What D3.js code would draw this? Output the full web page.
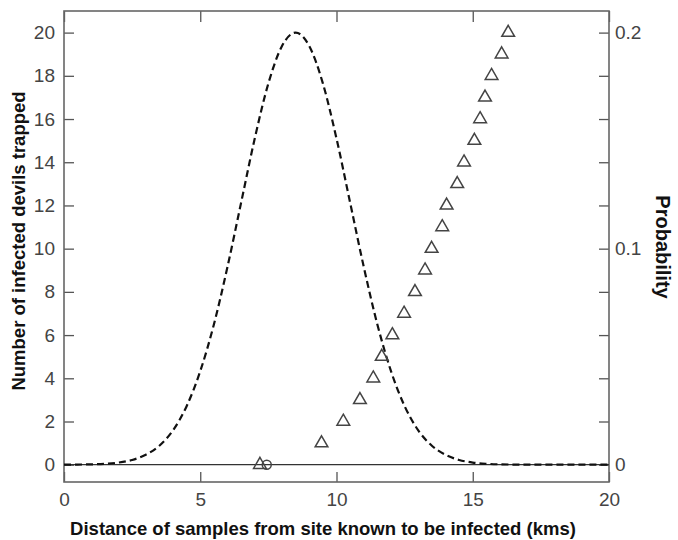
<!DOCTYPE html>
<html>
<head>
<meta charset="utf-8">
<script src="https://cdn.jsdelivr.net/npm/d3@7"></script>
<style>
  html, body { margin: 0; padding: 0; background: #fff; }
  svg { display: block; font-family: "Liberation Sans", Arial, sans-serif; }
</style>
</head>
<body>
<svg id="chart" width="678" height="540"></svg>
<script>
// ---- data ----
const xTickValues = [0, 5, 10, 15, 20];
const leftTickValues = [0, 2, 4, 6, 8, 10, 12, 14, 16, 18, 20];
const rightTickValues = [0, 0.02, 0.04, 0.06, 0.08, 0.1, 0.12, 0.14, 0.16, 0.18, 0.2];
const rightTickLabels = { "0": "0", "0.1": "0.1", "0.2": "0.2" };

// triangles: number of infected devils trapped vs distance
const triCount = [0, 1, 2, 3, 4, 5, 6, 7, 8, 9, 10, 11, 12, 13, 14, 15, 16, 17, 18, 19, 20];
const triDist  = [7.19, 9.45, 10.25, 10.86, 11.35, 11.66, 12.05, 12.48, 12.88, 13.25, 13.49,
                  13.88, 14.04, 14.43, 14.68, 15.06, 15.27, 15.45, 15.69, 16.06, 16.30];

// circle marker
const circDist = [7.44];
const circCount = [0];

// dashed probability curve
const curveDist = [0, 0.5, 1, 1.5, 2, 2.5, 3, 3.5, 4, 4.5, 5, 5.5, 6, 6.5, 7, 7.5, 8, 8.5, 9, 9.5, 10,
                   10.5, 11, 11.5, 12, 12.5, 13, 13.5, 14, 14.5, 15, 15.5, 16, 16.5, 17, 17.5, 18, 18.5, 19, 19.5, 20];
const curveProb = [0.00002, 0.00007, 0.00018, 0.00044, 0.0010, 0.0022, 0.0046, 0.0088, 0.0159, 0.0271,
                   0.0433, 0.0649, 0.0916, 0.1213, 0.1510, 0.1765, 0.1938, 0.2000, 0.1938, 0.1765, 0.1510,
                   0.1213, 0.0916, 0.0649, 0.0433, 0.0271, 0.0159, 0.0088, 0.0046, 0.0022, 0.0010,
                   0.00044, 0.00018, 0.00007, 0.00002, 0.00001, 0, 0, 0, 0, 0];

// ---- layout ----
const L = 64, R = 609, T = 11, B = 482;
const svg = d3.select("#chart");

const x = d3.scaleLinear().domain([0, 20]).range([L, R]);
const y = d3.scaleLinear().domain([-0.8, 21]).range([B, T]);
const y2 = d3.scaleLinear().domain([-0.008, 0.21]).range([B, T]);

const tickColor = "#555";
const labelColor = "#444";

function styleAxis(g) {
  g.select(".domain").remove();
  g.selectAll(".tick line").attr("stroke", tickColor).attr("stroke-width", 1.3);
  g.selectAll(".tick text").attr("fill", labelColor)
    .style("font-family", '"Liberation Sans", Arial, sans-serif')
    .style("font-size", "19px");
}

// bottom axis
svg.append("g").attr("transform", `translate(0,${B})`)
  .call(d3.axisBottom(x).tickValues(xTickValues).tickSize(-10).tickPadding(11).tickFormat(d3.format("d")))
  .call(styleAxis);

// top axis (ticks only)
svg.append("g").attr("transform", `translate(0,${T})`)
  .call(d3.axisTop(x).tickValues(xTickValues).tickSize(-11).tickFormat(""))
  .call(styleAxis);

// left axis
svg.append("g").attr("transform", `translate(${L},0)`)
  .call(d3.axisLeft(y).tickValues(leftTickValues).tickSize(-10).tickPadding(9).tickFormat(d3.format("d")))
  .call(styleAxis);

// right axis
svg.append("g").attr("transform", `translate(${R},0)`)
  .call(d3.axisRight(y2).tickValues(rightTickValues).tickSize(-10).tickPadding(6)
        .tickFormat(d => rightTickLabels[String(+d.toFixed(2))] || ""))
  .call(styleAxis);

// frame
svg.append("rect").attr("x", L).attr("y", T).attr("width", R - L).attr("height", B - T)
  .attr("fill", "none").attr("stroke", "#666").attr("stroke-width", 1.6);

// zero line
svg.append("line").attr("x1", x(0)).attr("x2", x(20)).attr("y1", y(0)).attr("y2", y(0))
  .attr("stroke", "#333").attr("stroke-width", 1.3);

// dashed curve
const curveData = curveDist.map((d, i) => [d, curveProb[i]]);
svg.append("path").datum(curveData)
  .attr("fill", "none").attr("stroke", "#111").attr("stroke-width", 2.2)
  .attr("stroke-dasharray", "7,4")
  .attr("d", d3.line().x(d => x(d[0])).y(d => y2(d[1])).curve(d3.curveMonotoneX));

// triangles
const tri = d3.symbol().type(d3.symbolTriangle).size(70);
svg.append("g").selectAll("path").data(triDist.map((d, i) => [d, triCount[i]]))
  .join("path")
  .attr("transform", d => `translate(${x(d[0])},${y(d[1])})`)
  .attr("d", tri)
  .attr("fill", "none").attr("stroke", "#444").attr("stroke-width", 1.5);

// circle
svg.append("g").selectAll("circle").data(circDist.map((d, i) => [d, circCount[i]]))
  .join("circle")
  .attr("cx", d => x(d[0])).attr("cy", d => y(d[1])).attr("r", 4.5)
  .attr("fill", "none").attr("stroke", "#444").attr("stroke-width", 1.5);

// titles
svg.append("text").attr("x", 323).attr("y", 535).attr("text-anchor", "middle")
  .style("font-size", "18.5px").style("font-weight", "bold").attr("fill", "#111")
  .text("Distance of samples from site known to be infected (kms)");

svg.append("text").attr("transform", "translate(25,241) rotate(-90)").attr("text-anchor", "middle")
  .style("font-size", "18.5px").style("font-weight", "bold").attr("fill", "#111")
  .text("Number of infected devils trapped");

svg.append("text").attr("transform", "translate(656,247) rotate(90)").attr("text-anchor", "middle")
  .style("font-size", "20px").style("font-weight", "bold").attr("fill", "#111")
  .text("Probability");
</script>
</body>
</html>
